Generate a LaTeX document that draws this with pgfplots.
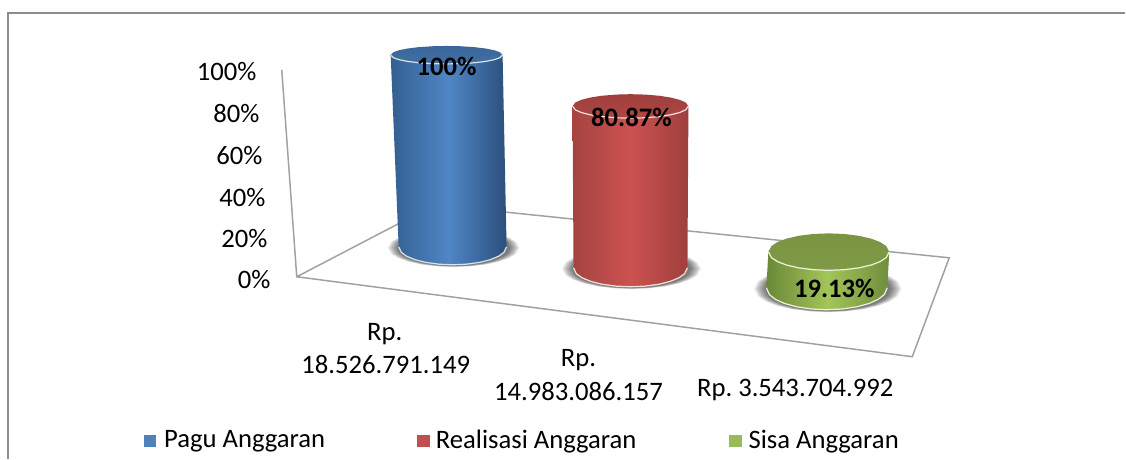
\documentclass[border=0pt]{standalone}
\usepackage{pgfplots}
\pgfplotsset{compat=1.18}
\usepackage{pgfplotstable}
\usepackage{fontspec}
\setmainfont{Carlito}
\definecolor{framegray}{HTML}{8C8C8C}
\definecolor{floorgray}{HTML}{A0A0A0}
\definecolor{bS}{HTML}{33608F}\definecolor{bC}{HTML}{4F86C6}\definecolor{bE}{HTML}{2C4F7C}\definecolor{bT}{HTML}{3A659B}\definecolor{bU}{HTML}{41719F}\definecolor{bR}{HTML}{D5E3F2}
\definecolor{rS}{HTML}{A54341}\definecolor{rC}{HTML}{CB5250}\definecolor{rE}{HTML}{9E3F3D}\definecolor{rT}{HTML}{9E3F3D}\definecolor{rU}{HTML}{AE4744}\definecolor{rR}{HTML}{F5E0DC}
\definecolor{gS}{HTML}{6A8838}\definecolor{gC}{HTML}{A3C558}\definecolor{gE}{HTML}{6F8D3C}\definecolor{gT}{HTML}{7A9442}\definecolor{gU}{HTML}{7F9A46}\definecolor{gR}{HTML}{EEF3D8}
\definecolor{legB}{HTML}{4F81BD}\definecolor{legR}{HTML}{C0504D}\definecolor{legG}{HTML}{9BBB59}
\pgfplotstableread{
u d t
-1 0 0
-0.95 0.312 0
-0.85 0.527 0
-0.7 0.714 0
-0.5 0.866 0
-0.25 0.968 0
0 1 0
0.25 0.968 0
0.5 0.866 0
0.7 0.714 0
0.85 0.527 0
0.95 0.312 0
1 0 0
1 0 1
-1 0 1
}\bodyshape
\pgfplotstableread{
u d
-1 0
-0.95 0.312
-0.85 0.527
-0.7 0.714
-0.5 0.866
-0.25 0.968
0 1
0.25 0.968
0.5 0.866
0.7 0.714
0.85 0.527
0.95 0.312
1 0
}\frontarc
\pgfplotstableread{
u d
-1 0
-0.95 0.312
-0.85 0.527
-0.7 0.714
-0.5 0.866
-0.25 0.968
0 1
0.25 0.968
0.5 0.866
0.7 0.714
0.85 0.527
0.95 0.312
1 0
0.95 -0.312
0.85 -0.527
0.7 -0.714
0.5 -0.866
0.25 -0.968
0 -1
-0.25 -0.968
-0.5 -0.866
-0.7 -0.714
-0.85 -0.527
-0.95 -0.312
}\fullellipse
\newcommand{\shadowring}[1]{%
  \addplot[draw=none,fill=black,fill opacity=0.07,forget plot] table[x expr={\Bx+1+\thisrow{u}*\Brx*#1},y expr={\By+1+\thisrow{d}*\Bry*(1+(#1-1)*0.3)}]{\fullellipse}--cycle;}
% value, px per percent, bottom cx, bottom y, bottom rx, bottom ry, top cx, top rx, top ry
\newcommand{\cyl}[9]{\def\Cv{#1}\def\Cs{#2}\def\Bx{#3}\def\By{#4}\def\Brx{#5}\def\Bry{#6}\def\Tx{#7}\def\Trx{#8}\def\Try{#9}\docyl}
\newcommand{\docyl}[1]{%
  \shadowring{1.22}\shadowring{1.20}\shadowring{1.18}\shadowring{1.16}\shadowring{1.14}\shadowring{1.12}\shadowring{1.10}\shadowring{1.08}\shadowring{1.06}\shadowring{1.04}%
  \addplot[draw=none,left color=#1S,right color=#1E,middle color=#1C,forget plot] table[
    x expr={(1-\thisrow{t})*(\Bx+\thisrow{u}*\Brx)+\thisrow{t}*(\Tx+\thisrow{u}*\Trx)},
    y expr={\By+\thisrow{d}*\Bry-\thisrow{t}*\Cv*\Cs}]{\bodyshape}--cycle;
  \addplot[#1R,line width=0.9pt,forget plot] table[
    x expr={\Bx+\thisrow{u}*\Brx},y expr={\By+\thisrow{d}*\Bry}]{\frontarc};
  \addplot[draw=none,top color=#1T,bottom color=#1U,forget plot] table[
    x expr={\Tx+\thisrow{u}*\Trx},y expr={\By-\Cv*\Cs+\thisrow{d}*\Try}]{\fullellipse}--cycle;
  \addplot[#1R,line width=0.9pt,forget plot] table[
    x expr={\Tx+\thisrow{u}*\Trx},y expr={\By-\Cv*\Cs+\thisrow{d}*\Try}]{\frontarc};
}
\newcommand{\lbl}[3]{\node[inner sep=0pt,font=\fontsize{20}{24}\selectfont,#3] at (axis cs:#1) {#2};}
\begin{document}
\begin{tikzpicture}
\begin{axis}[
  scale only axis,width=844.5pt,height=344.25pt,
  xmin=0,xmax=1126,ymin=0,ymax=459,y dir=reverse,
  axis lines=none,clip=false]
\path (axis cs:0,0) -- (axis cs:1126,459);
% frame
\addplot[framegray,line width=1.4pt,forget plot] coordinates {(8,459)(8,13)(1126,13)};
% floor and value axis
\addplot[floorgray,line width=1.1pt,forget plot] coordinates {(282,70)(297,277)(913,357)(950,258)(435,205)(297,277)};
% cylinders
\cyl{100}{1.92}{453}{247}{54}{18}{447}{56}{9}{b}
\cyl{80.87}{2.0}{631}{268}{57}{19}{631}{58}{12}{r}
\cyl{19.13}{1.88}{827.5}{288}{60.5}{22}{829.5}{60.5}{18.5}{g}
% value labels
\lbl{447,66}{\textbf{100\%}}{}
\lbl{632,118}{\textbf{80.87\%}}{}
\lbl{835,289}{\textbf{19.13\%}}{}
% value axis labels
\lbl{257,72}{100\%}{anchor=east}
\lbl{260,114}{80\%}{anchor=east}
\lbl{263,156}{60\%}{anchor=east}
\lbl{266,198}{40\%}{anchor=east}
\lbl{268,239}{20\%}{anchor=east}
\lbl{271,280}{0\%}{anchor=east}
% category labels
\lbl{385,334}{Rp.}{}
\lbl{386,365}{18.526.791.149}{}
\lbl{579,360}{Rp.}{}
\lbl{579,392}{14.983.086.157}{}
\lbl{796,390}{Rp.\hspace{-0.08em} 3.543.704.992}{}
% legend
\addplot[draw=none,fill=legB,forget plot] coordinates {(144,435)(156.5,435)(156.5,447)(144,447)}--cycle;
\addplot[draw=none,fill=legR,forget plot] coordinates {(417,435)(430,435)(430,447)(417,447)}--cycle;
\addplot[draw=none,fill=legG,forget plot] coordinates {(730,435)(743,435)(743,447)(730,447)}--cycle;
\lbl{164,442}{Pagu Anggaran}{anchor=west}
\lbl{436,442}{Realisasi Anggaran}{anchor=west}
\lbl{749,442}{Sisa Anggaran}{anchor=west}
\end{axis}
\end{tikzpicture}
\end{document}
